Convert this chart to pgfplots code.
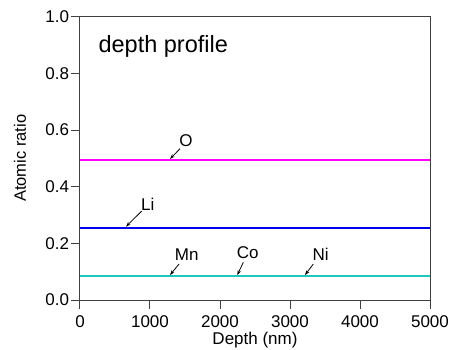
\documentclass[border=0pt]{standalone}
\usepackage{fontspec}
\setmainfont{Liberation Sans}
\usepackage{pgfplots}
\pgfplotsset{compat=1.18}
\usetikzlibrary{arrows.meta}
\definecolor{cO}{RGB}{255,0,255}
\definecolor{cLi}{RGB}{0,0,235}
\definecolor{cTM}{RGB}{30,200,190}
\definecolor{axc}{RGB}{64,64,64}
\begin{document}
\begin{tikzpicture}
\begin{axis}[
  scale only axis, width=350pt, height=283.3pt,
  xmin=0, xmax=5000, ymin=0, ymax=1,
  xtick={0,1000,2000,3000,4000,5000},
  ytick={0,0.2,0.4,0.6,0.8,1.0},
  scaled x ticks=false,
  xticklabel style={/pgf/number format/1000 sep={}, yshift=-3pt},
  yticklabel style={/pgf/number format/fixed,/pgf/number format/fixed zerofill,/pgf/number format/precision=1, xshift=1.5pt},
  /pgf/number format/assume math mode=true,
  tick align=outside, tick pos=left,
  major tick length=9pt,
  axis line style={axc, line width=1pt},
  every tick/.style={axc, line width=1pt},
  tick label style={font=\fontsize{17}{20}\selectfont},
  xlabel={Depth (nm)}, ylabel={Atomic ratio},
  every axis x label/.style={at={(axis description cs:0.5,-0.1588)}, anchor=base, font=\fontsize{17}{20}\selectfont},
  every axis y label/.style={at={(axis description cs:-0.1543,0.5)}, rotate=90, anchor=base, font=\fontsize{16.5}{19}\selectfont},
  clip=false,
]
\addplot[cO, line width=1.6pt] coordinates {(0,0.495) (5000,0.495)};
\addplot[cLi, line width=1.6pt] coordinates {(0,0.255) (5000,0.255)};
\addplot[cTM, line width=1.6pt] coordinates {(0,0.085) (5000,0.085)};
\addplot[cTM, line width=1.6pt] coordinates {(0,0.085) (5000,0.085)};
\addplot[cTM, line width=1.6pt] coordinates {(0,0.085) (5000,0.085)};
\node[anchor=base west, font=\fontsize{23.5}{28}\selectfont] at (rel axis cs:0.043,0.872) {depth profile};
\tikzset{ann/.style={-{Stealth[length=5pt,width=3.5pt]}, line width=0.8pt, black}}
\draw[ann] (axis cs:1429,0.534) -- (axis cs:1286,0.498);
\node[font=\fontsize{17}{20}\selectfont] at (axis cs:1514,0.563) {O};
\draw[ann] (axis cs:881,0.314) -- (axis cs:657,0.259);
\node[font=\fontsize{17}{20}\selectfont] at (axis cs:967,0.336) {Li};
\draw[ann] (axis cs:1414,0.127) -- (axis cs:1286,0.088);
\node[font=\fontsize{17}{20}\selectfont] at (axis cs:1524,0.161) {Mn};
\draw[ann] (axis cs:2333,0.133) -- (axis cs:2247,0.088);
\node[font=\fontsize{17}{20}\selectfont] at (axis cs:2396,0.167) {Co};
\draw[ann] (axis cs:3333,0.127) -- (axis cs:3214,0.088);
\node[font=\fontsize{17}{20}\selectfont] at (axis cs:3439,0.161) {Ni};
\end{axis}
\pgfresetboundingbox
\path ([shift={(-80pt,-49pt)}]current axis.south west) rectangle ([shift={(22pt,16.7pt)}]current axis.north east);
\end{tikzpicture}
\end{document}
